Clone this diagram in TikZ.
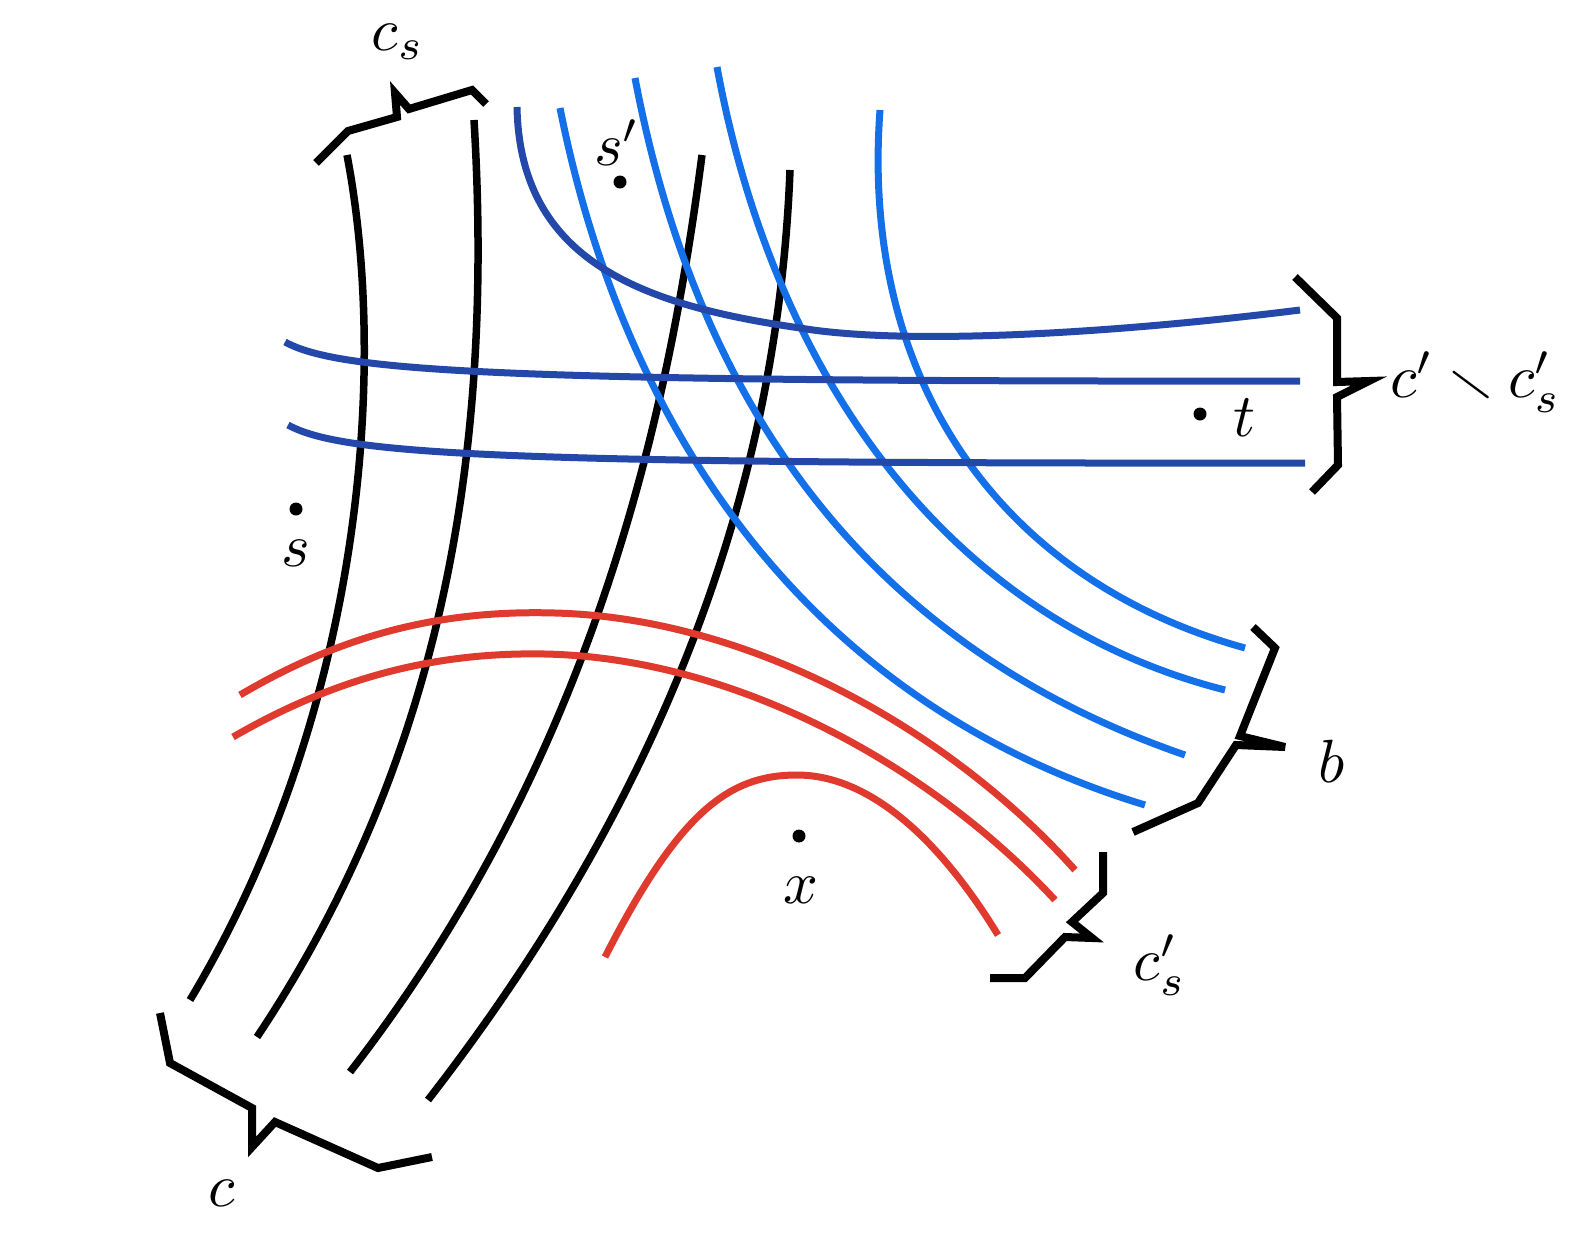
\documentclass[tikz,border=0pt]{standalone}
\usepackage{amssymb}
\definecolor{dblue}{RGB}{35,72,170}
\definecolor{lblue}{RGB}{20,112,232}
\definecolor{redc}{RGB}{224,58,46}
\begin{document}
\begin{tikzpicture}[x=1pt,y=-1pt,
  blk/.style={line width=7.5pt,black},
  lb/.style={line width=7pt,lblue},
  db/.style={line width=7pt,dblue},
  rd/.style={line width=7pt,redc},
  brc/.style={line width=8pt,black,line join=miter},
  dotn/.style={circle,fill=black,inner sep=0pt,minimum size=13pt},
  lbl/.style={inner sep=0pt,scale=6.1}]
\useasboundingbox (0,0) rectangle (1569,1245);
% black curves (c)
\draw[blk] (347,155) .. controls (390,380) and (358,720) .. (190,1000);
\draw[blk] (474,120) .. controls (492,420) and (455,740) .. (257,1037);
\draw[blk] (702,155) .. controls (670,400) and (600,750) .. (350,1072);
\draw[blk] (790,170) .. controls (780,430) and (700,750) .. (428,1100);
% light blue curves (b)
\draw[lb] (560,108) .. controls (622,420) and (800,700) .. (1145,805);
\draw[lb] (635,78) .. controls (700,420) and (880,650) .. (1185,755);
\draw[lb] (717,67) .. controls (775,380) and (950,620) .. (1225,690);
\draw[lb] (880,110) .. controls (860,380) and (1000,580) .. (1245,648);
% dark blue curves
\draw[db] (517,107) .. controls (520,260) and (640,305) .. (800,328) .. controls (900,345) and (1100,335) .. (1300,310);
\draw[db] (285,342) .. controls (340,372) and (500,382) .. (1300,381);
\draw[db] (288,425) .. controls (343,455) and (500,464) .. (1305,463);
% red curves
\draw[rd] (240,695) .. controls (350,630) and (450,610) .. (555,613) .. controls (750,618) and (950,730) .. (1075,870);
\draw[rd] (233,737) .. controls (340,675) and (440,652) .. (545,654) .. controls (735,658) and (930,765) .. (1055,900);
\draw[rd] (605,957) .. controls (680,810) and (730,775) .. (797,775) .. controls (870,775) and (940,840) .. (998,935);
% braces
\draw[brc] (316,163) -- (348,131) -- (397,117) -- (395,93) -- (409,109) -- (472,90) -- (486,104);
\draw[brc] (1295,277) -- (1337,318) -- (1337,382) -- (1369,381) -- (1337,397) -- (1338,465) -- (1312,492);
\draw[brc] (1253,627) -- (1275,648) -- (1240,736) -- (1285,747) -- (1236,745) -- (1198,803) -- (1133,832);
\draw[brc] (1103,852) -- (1103,893) -- (1072,922) -- (1092,938) -- (1065,937) -- (1025,978) -- (990,978);
\draw[brc] (160,1013) -- (170,1063) -- (252,1108) -- (252,1147) -- (275,1122) -- (378,1168) -- (432,1157);
% dots
\node[dotn] (sp) at (620,182) {};
\node[dotn] (s) at (296,509) {};
\node[dotn] (t) at (1200,414) {};
\node[dotn] (x) at (799,836) {};
% labels
\node[lbl] (lcs) at (398,42) {$c_s$};
\node[lbl] (lsp) at (617,143) {$s'$};
\node[lbl] (ls) at (296,553) {$s$};
\node[lbl] (lt) at (1244,418) {$t$};
\node[lbl] (lx) at (801,890) {$x$};
\node[lbl,anchor=west] (lcp) at (1389,382) {$c'\smallsetminus c'_s$};
\node[lbl] (lb) at (1332,761) {$b$};
\node[lbl] (lcps) at (1160,965) {$c'_s$};
\node[lbl] (lc) at (222,1193) {$c$};
\end{tikzpicture}
\end{document}
